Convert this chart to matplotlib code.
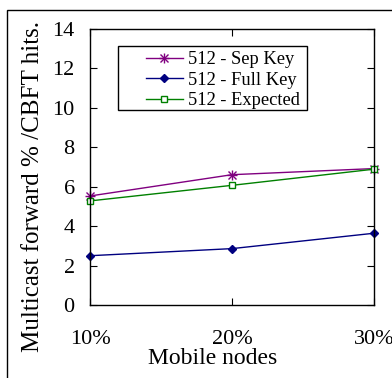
import matplotlib.pyplot as plt
from matplotlib.patches import Rectangle
from matplotlib.lines import Line2D

categories = ["10%", "20%", "30%"]
sep_key = [5.53, 6.61, 6.92]
full_key = [2.50, 2.86, 3.64]
expected = [5.28, 6.07, 6.89]

plt.rcParams['font.family'] = ['Liberation Serif', 'DejaVu Serif']

fig = plt.figure(figsize=(3.92, 3.78), dpi=100)
W, H = 392, 378
AW, AH = 284, 276
ax = fig.add_axes([90 / W, 1 - 305 / H, AW / W, AH / H])

# outer frame, cut off at right and bottom like the source image
fig.patches.append(Rectangle((7 / W, -0.05), 1.2, 1 - 10 / H + 0.05,
                             transform=fig.transFigure, fill=False,
                             edgecolor='black', linewidth=1.0))

x = range(len(categories))
ax.plot(x, sep_key, color='#800080', marker='x', markersize=6, mew=1.0,
        linewidth=1.0, label='512 - Sep Key', clip_on=False)
ax.plot(x, sep_key, color='#800080', marker='+', markersize=7, mew=1.0,
        linestyle='none', clip_on=False)
ax.plot(x, full_key, color='#000080', marker='D', markersize=4.5,
        linewidth=1.0, label='512 - Full Key', clip_on=False)
ax.plot(x, expected, color='#008000', marker='s', markersize=5,
        markerfacecolor='white', mew=1.0, linewidth=1.0,
        label='512 - Expected', clip_on=False)

ax.set_xlim(0, 2)
ax.set_ylim(0, 14)
ax.set_yticks(range(0, 15, 2))
ax.set_xticks(list(x))
ax.set_xticklabels(categories)
ax.tick_params(axis='both', direction='in', length=5, labelsize=16,
               top=True, right=True, width=0.8)
ax.tick_params(axis='x', pad=18)
ax.tick_params(axis='y', pad=11)
for s in ax.spines.values():
    s.set_linewidth(1.0)

ax.set_xlabel('Mobile nodes', fontsize=17, va='center')
ax.xaxis.set_label_coords((213 - 90) / AW, (305 - 359) / AH)
ax.set_ylabel('Multicast forward % /CBFT hits.', fontsize=18, va='center')
ax.yaxis.set_label_coords((33 - 90) / AW, (305 - 187) / AH)

# legend frame drawn by hand (wide side padding)
ax.add_patch(Rectangle(((118 - 90) / AW, (305 - 110) / AH),
                       (307 - 118) / AW, (110 - 46) / AH,
                       transform=ax.transAxes, fill=True, facecolor='white',
                       edgecolor='black', linewidth=1.0, zorder=4))

h_sep = (Line2D([], [], color='#800080', marker='x', markersize=6, linewidth=1.0),
         Line2D([], [], color='#800080', marker='+', markersize=7, linestyle='none'))
handles, labels = ax.get_legend_handles_labels()
leg = ax.legend([h_sep, handles[1], handles[2]], labels,
                loc='upper left', bbox_to_anchor=((146 - 90) / AW, (305 - 51) / AH),
                fontsize=13.3, frameon=False, handlelength=2.0, handletextpad=0.25,
                borderpad=0, labelspacing=0.2, borderaxespad=0)
leg.set_zorder(5)

fig.savefig('out.png', dpi=100)
